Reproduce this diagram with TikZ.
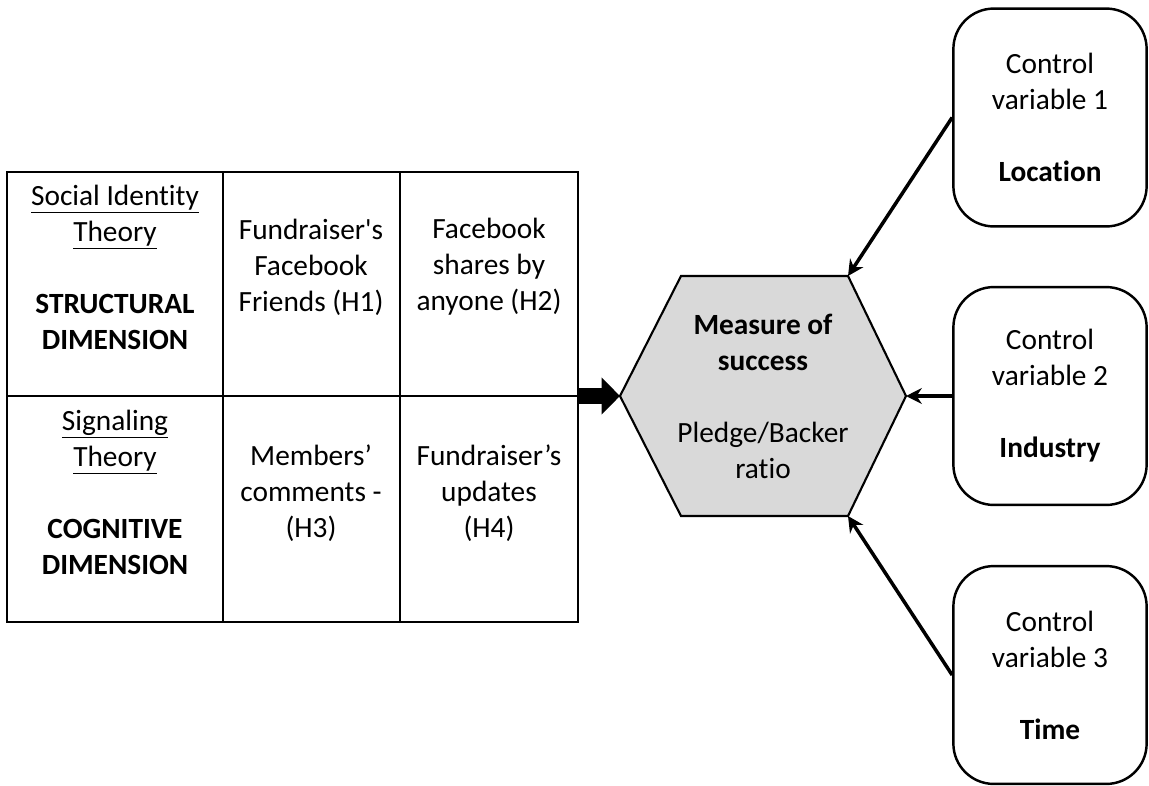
\documentclass[tikz,border=0pt]{standalone}
\usepackage{fontspec}
\setmainfont[Ligatures={NoCommon}]{Carlito}
\usetikzlibrary{arrows.meta,positioning}
\definecolor{hexgray}{HTML}{D9D9D9}

\begin{document}
\begin{tikzpicture}[x=0.02cm, y=-0.02cm, line width=0.85pt,
    font=\fontsize{16.7}{20.5}\selectfont,
    txt/.style={align=center, inner sep=0pt},
    ctrl/.style={draw, line width=1.4pt, rounded corners=23pt, align=center,
      minimum width=110pt, minimum height=124pt},
    ctrlarrow/.style={line width=2pt, -{Stealth[length=9pt, width=9pt, inset=3pt]}}]
  \useasboundingbox (0,0) rectangle (1149,785);

  % the two-by-three table
  \draw (7,172) rectangle (578,622);
  \draw (7,396) -- (578,396) (223,172) -- (223,622) (400,172) -- (400,622);
  \coordinate (tabE) at (578,396);

  \node[txt] (sit) at (115,267) {\underline{Social Identity}\\\underline{Theory}\\[20.5pt]\textbf{STRUCTURAL}\\\textbf{DIMENSION}};
  \node[txt] (h1) at (311,267) {Fundraiser\textquotesingle s\\Facebook\\Friends (H1)};
  \node[txt] (h2) at (489,267) {Facebook\\shares by\\anyone (H2)};
  \node[txt] (sig) at (115,492) {\underline{Signaling}\\\underline{Theory}\\[20.5pt]\textbf{COGNITIVE}\\\textbf{DIMENSION}};
  \node[txt] (h3) at (311,493) {Members’\\comments -\\(H3)};
  \node[txt] (h4) at (489,493) {Fundraiser’s\\updates\\(H4)};

  % outcome hexagon
  \coordinate (hexW) at (620,396);
  \coordinate (hexNW) at (681,276);
  \coordinate (hexNE) at (848,276);
  \coordinate (hexE) at (906,396);
  \coordinate (hexSE) at (848,516);
  \coordinate (hexSW) at (681,516);
  \draw[fill=hexgray, line width=1.2pt] (hexW) -- (hexNW) -- (hexNE) -- (hexE) -- (hexSE) -- (hexSW) -- cycle;
  \node[txt] (meas) at (763,396) {\textbf{Measure of}\\\textbf{success}\\[20.5pt]Pledge/Backer\\ratio};

  \draw[line width=9.6pt, -{Triangle[length=10.5pt, width=20.5pt]}] (tabE) -- (hexW);

  % control variables
  \node[ctrl] (ctrl1) at (1050,117.5) {Control\\variable 1\\[20.5pt]\textbf{Location}};
  \node[ctrl] (ctrl2) at (1050,396) {Control\\variable 2\\[20.5pt]\textbf{Industry}};
  \node[ctrl] (ctrl3) at (1050,675) {Control\\variable 3\\[20.5pt]\textbf{Time}};

  \draw[ctrlarrow] (ctrl1.west) -- (hexNE);
  \draw[ctrlarrow] (ctrl2.west) -- (hexE);
  \draw[ctrlarrow] (ctrl3.west) -- (hexSE);
\end{tikzpicture}
\end{document}
